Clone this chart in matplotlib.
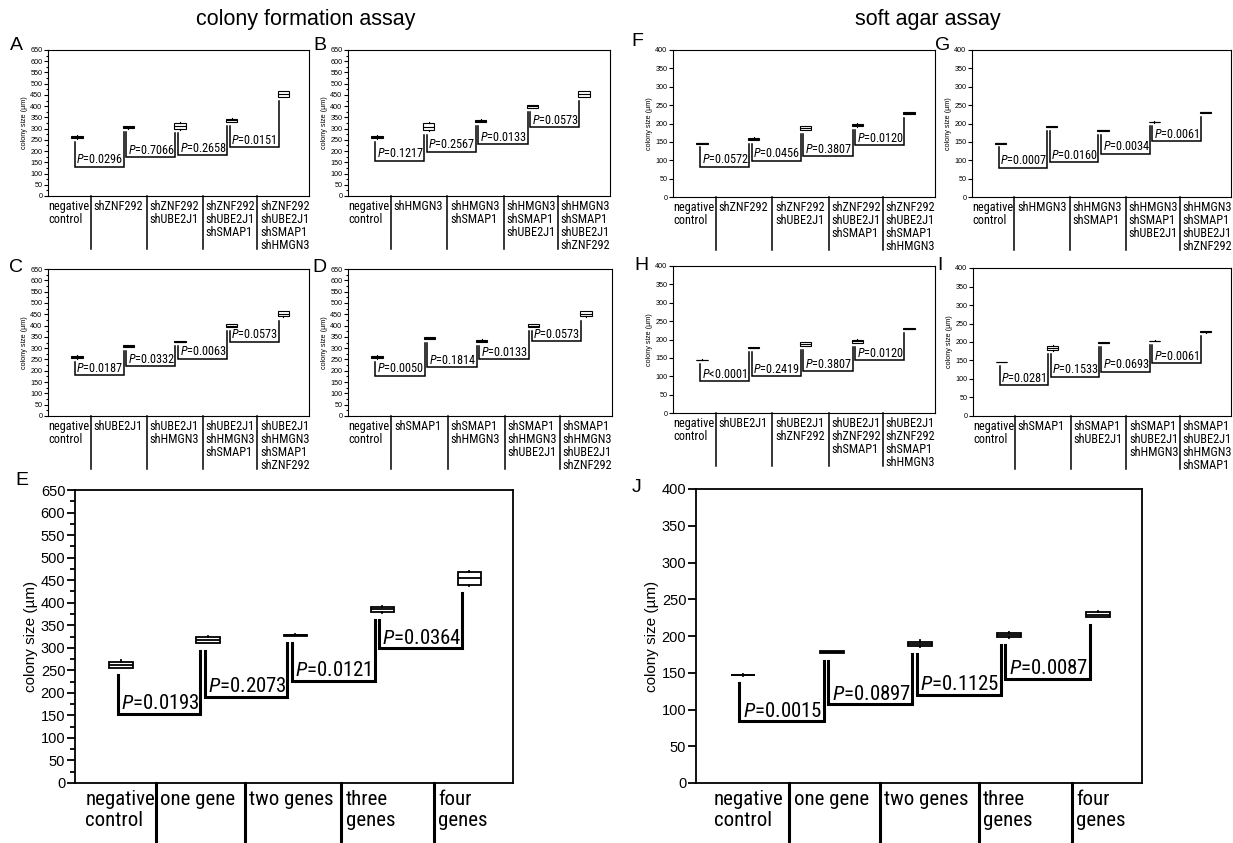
import matplotlib
matplotlib.use("Agg")
import matplotlib.pyplot as plt
import matplotlib.transforms as mtransforms
from matplotlib import font_manager
from matplotlib.ticker import MultipleLocator

# pick a condensed face for the p-values and group labels if it is there
installed = {f.name for f in font_manager.fontManager.ttflist}
narrow, nscale = "Liberation Sans", 0.86
for want in ["Liberation Sans Narrow", "Arial Narrow", "Roboto Condensed", "Open Sans Condensed"]:
    if want in installed:
        narrow, nscale = want, 1.0
        break

plt.rcParams["font.family"] = ["Liberation Sans", "DejaVu Sans"]
plt.rcParams["mathtext.fontset"] = "custom"
plt.rcParams["mathtext.rm"] = narrow
plt.rcParams["mathtext.it"] = narrow + ":italic"

# ---------------- data ----------------
# colony formation assay (A-E)
cats_A = ["negative\ncontrol", "shZNF292", "shZNF292\nshUBE2J1",
          "shZNF292\nshUBE2J1\nshSMAP1", "shZNF292\nshUBE2J1\nshSMAP1\nshHMGN3"]
med_A = [263, 307, 312, 337, 453]
q1_A = [257, 302, 298, 330, 441]
q3_A = [268, 311, 326, 344, 466]
lo_A = [255, 300, 296, 328, 439]
hi_A = [273, 313, 329, 346, 469]
lvl_A = [130, 172, 182, 217]
p_A = ["=0.0296", "=0.7066", "=0.2658", "=0.0151"]

cats_B = ["negative\ncontrol", "shHMGN3", "shHMGN3\nshSMAP1",
          "shHMGN3\nshSMAP1\nshUBE2J1", "shHMGN3\nshSMAP1\nshUBE2J1\nshZNF292"]
med_B = [263, 307, 335, 399, 453]
q1_B = [257, 292, 330, 394, 441]
q3_B = [268, 325, 340, 404, 466]
lo_B = [255, 290, 328, 392, 439]
hi_B = [273, 328, 342, 406, 469]
lvl_B = [157, 197, 231, 306]
p_B = ["=0.1217", "=0.2567", "=0.0133", "=0.0573"]

cats_C = ["negative\ncontrol", "shUBE2J1", "shUBE2J1\nshHMGN3",
          "shUBE2J1\nshHMGN3\nshSMAP1", "shUBE2J1\nshHMGN3\nshSMAP1\nshZNF292"]
med_C = [262, 311, 329, 400, 452]
q1_C = [256, 307, 327, 395, 440]
q3_C = [267, 314, 331, 405, 464]
lo_C = [254, 305, 326, 393, 438]
hi_C = [270, 316, 332, 407, 466]
lvl_C = [181, 221, 254, 329]
p_C = ["=0.0187", "=0.0332", "=0.0063", "=0.0573"]

cats_D = ["negative\ncontrol", "shSMAP1", "shSMAP1\nshHMGN3",
          "shSMAP1\nshHMGN3\nshUBE2J1", "shSMAP1\nshHMGN3\nshUBE2J1\nshZNF292"]
med_D = [262, 346, 333, 400, 452]
q1_D = [256, 342, 328, 395, 440]
q3_D = [267, 349, 338, 405, 464]
lo_D = [254, 340, 326, 393, 438]
hi_D = [270, 351, 340, 407, 466]
lvl_D = [178, 215, 251, 331]
p_D = ["=0.0050", "=0.1814", "=0.0133", "=0.0573"]

cats_E = ["negative\ncontrol", "one gene", "two genes", "three\ngenes", "four\ngenes"]
med_E = [262, 318, 328, 385, 455]
q1_E = [256, 311, 327, 379, 440]
q3_E = [268, 323, 329, 391, 468]
lo_E = [255, 310, 327, 378, 438]
hi_E = [273, 326, 331, 393, 471]
lvl_E = [153, 191, 226, 299]
p_E = ["=0.0193", "=0.2073", "=0.0121", "=0.0364"]

# soft agar assay (F-J)
cats_F = ["negative\ncontrol", "shZNF292", "shZNF292\nshUBE2J1",
          "shZNF292\nshUBE2J1\nshSMAP1", "shZNF292\nshUBE2J1\nshSMAP1\nshHMGN3"]
med_F = [146, 158, 188, 196, 229]
q1_F = [145.5, 155, 183, 192, 227]
q3_F = [146.5, 161, 193, 200, 231]
lo_F = [145, 154, 182, 191, 226]
hi_F = [147, 162, 194, 201, 232]
lvl_F = [82, 99, 111, 141]
p_F = ["=0.0572", "=0.0456", "=0.3807", "=0.0120"]

cats_G = ["negative\ncontrol", "shHMGN3", "shHMGN3\nshSMAP1",
          "shHMGN3\nshSMAP1\nshUBE2J1", "shHMGN3\nshSMAP1\nshUBE2J1\nshZNF292"]
med_G = [146, 191, 181, 204, 230]
q1_G = [145.5, 190, 180, 203, 229]
q3_G = [146.5, 192.5, 182, 205, 231.5]
lo_G = [145, 189.5, 179.5, 202.5, 228.5]
hi_G = [147, 193, 182.5, 205.5, 232]
lvl_G = [80, 95, 118, 152]
p_G = ["=0.0007", "=0.0160", "=0.0034", "=0.0061"]

cats_H = ["negative\ncontrol", "shUBE2J1", "shUBE2J1\nshZNF292",
          "shUBE2J1\nshZNF292\nshSMAP1", "shUBE2J1\nshZNF292\nshSMAP1\nshHMGN3"]
med_H = [145, 178, 188, 196, 229]
q1_H = [144.5, 177, 182, 191, 228]
q3_H = [145.5, 179, 193, 200, 230]
lo_H = [144, 176.5, 181, 190, 227.5]
hi_H = [146, 179.5, 194, 201, 230.5]
lvl_H = [86, 100, 113, 144]
p_H = ["<0.0001", "=0.2419", "=0.3807", "=0.0120"]

cats_I = ["negative\ncontrol", "shSMAP1", "shSMAP1\nshUBE2J1",
          "shSMAP1\nshUBE2J1\nshHMGN3", "shSMAP1\nshUBE2J1\nshHMGN3\nshSMAP1"]
med_I = [146, 184, 198, 203, 227]
q1_I = [145.5, 178, 197, 202, 226]
q3_I = [146.5, 190, 199, 204, 228.5]
lo_I = [145, 177, 196.5, 201.5, 225.5]
hi_I = [147, 191, 199.5, 205, 229]
lvl_I = [84, 106, 120, 143]
p_I = ["=0.0281", "=0.1533", "=0.0693", "=0.0061"]

cats_J = ["negative\ncontrol", "one gene", "two genes", "three\ngenes", "four\ngenes"]
med_J = [147, 178, 189, 201, 229]
q1_J = [146.5, 177, 186, 198, 226]
q3_J = [147.5, 179.5, 192, 204, 232]
lo_J = [146, 176.5, 185.5, 197.5, 225.5]
hi_J = [148, 180, 194, 205, 234]
lvl_J = [84, 107, 120, 142]
p_J = ["=0.0015", "=0.0897", "=0.1125", "=0.0087"]

# ---------------- layout ----------------
W, H = 1233, 843
fig = plt.figure(figsize=(W / 100, H / 100), dpi=100)


def px_rect(l, t, r, b):
    return [l / W, 1 - b / H, (r - l) / W, (b - t) / H]


small = dict(tick=5.2, ylab=5.2, ptxt=8.8, cat=8.8, lsp=1.0, lw=1.1, frame=0.8,
             bw=0.22, tl=3, mtl=1.6, depth=0.36, xlim=(0.44, 5.5), first=0.01,
             div=[1.27, 2.36, 3.45, 4.5], pdx=1.2, pdy=0.3)
big = dict(tick=10.5, ylab=11, ptxt=15.0, cat=15.0, lsp=1.1, lw=2.2, frame=1.3,
           bw=0.27, tl=6, mtl=3.5, depth=0.21, xlim=(0.47, 5.5), first=0.12,
           div=[1.4, 2.42, 3.53, 4.59], pdx=2.5, pdy=0.5)


def panel(rect, cats, med, q1, q3, lo, hi, lvl, pv, ymax, st, minor, div=None, first=None):
    ax = fig.add_axes(rect)
    pos = list(range(1, len(cats) + 1))
    stats = [dict(med=m, q1=a, q3=b, whislo=l, whishi=h, fliers=[])
             for m, a, b, l, h in zip(med, q1, q3, lo, hi)]
    bl = st["frame"]
    ax.bxp(stats, positions=pos, widths=st["bw"], patch_artist=True, showcaps=False,
           boxprops=dict(facecolor="white", edgecolor="black", linewidth=bl),
           medianprops=dict(color="black", linewidth=bl),
           whiskerprops=dict(color="black", linewidth=bl))
    gap = 0.025 * ymax
    for i in range(len(lvl)):
        xl = pos[i] - 0.04
        xr = pos[i + 1] - 0.09
        ax.plot([xl, xl, xr, xr], [lo[i] - gap, lvl[i], lvl[i], lo[i + 1] - gap],
                color="black", lw=st["lw"], solid_joinstyle="miter")
        ax.annotate("$P$" + pv[i], xy=(xl, lvl[i]), xytext=(st["pdx"], st["pdy"]),
                    textcoords="offset points", ha="left", va="bottom",
                    fontsize=st["ptxt"] * nscale, family=narrow)
    ax.set_xlim(*st["xlim"])
    ax.set_ylim(0, ymax)
    ax.set_xticks([])
    ax.yaxis.set_major_locator(MultipleLocator(50))
    if minor:
        ax.yaxis.set_minor_locator(MultipleLocator(25))
    ax.tick_params(axis="y", direction="out", labelsize=st["tick"], length=st["tl"],
                   width=bl, pad=1)
    ax.tick_params(axis="y", which="minor", length=st["mtl"], width=bl)
    for s in ax.spines.values():
        s.set_linewidth(bl)
    ax.set_ylabel("colony size (µm)", fontsize=st["ylab"], labelpad=2)
    # category block under the axis
    trans = mtransforms.blended_transform_factory(ax.transData, ax.transAxes)
    dv = div if div is not None else st["div"]
    for d in dv:
        ax.plot([d, d], [0, -st["depth"]], transform=trans, clip_on=False,
                color="black", lw=st["lw"])
    f0 = first if first is not None else st["first"]
    starts = [st["xlim"][0] + f0] + [d + 0.05 for d in dv]
    for x, lab in zip(starts, cats):
        ax.text(x, -0.025, lab, transform=trans, ha="left", va="top",
                fontsize=st["cat"] * nscale, family=narrow, linespacing=st["lsp"])
    return ax


panel(px_rect(48, 50, 309, 196), cats_A, med_A, q1_A, q3_A, lo_A, hi_A, lvl_A, p_A, 650, small, True)
panel(px_rect(348, 50, 610, 196), cats_B, med_B, q1_B, q3_B, lo_B, hi_B, lvl_B, p_B, 650, small, True)
panel(px_rect(48, 269, 309, 416), cats_C, med_C, q1_C, q3_C, lo_C, hi_C, lvl_C, p_C, 650, small, True)
panel(px_rect(348, 269, 612, 416), cats_D, med_D, q1_D, q3_D, lo_D, hi_D, lvl_D, p_D, 650, small, True)
panel(px_rect(75, 490, 513, 783), cats_E, med_E, q1_E, q3_E, lo_E, hi_E, lvl_E, p_E, 650, big, True)

panel(px_rect(673, 50, 935, 197), cats_F, med_F, q1_F, q3_F, lo_F, hi_F, lvl_F, p_F, 400, small, False)
panel(px_rect(972, 50, 1231, 197), cats_G, med_G, q1_G, q3_G, lo_G, hi_G, lvl_G, p_G, 400, small, False)
panel(px_rect(673, 266, 935, 413), cats_H, med_H, q1_H, q3_H, lo_H, hi_H, lvl_H, p_H, 400, small, False)
panel(px_rect(973, 268, 1231, 416), cats_I, med_I, q1_I, q3_I, lo_I, hi_I, lvl_I, p_I, 400, small, False)
panel(px_rect(696, 489, 1142, 783), cats_J, med_J, q1_J, q3_J, lo_J, hi_J, lvl_J, p_J, 400, big, False,
      div=[1.52, 2.54, 3.66, 4.71], first=0.2)

fig.text(306 / W, 1 - 20 / H, "colony formation assay", ha="center", va="center", fontsize=15.5)
fig.text(928 / W, 1 - 20 / H, "soft agar assay", ha="center", va="center", fontsize=15.5)

letters = [("A", 16, 45), ("B", 320, 45), ("C", 16, 267), ("D", 319, 267), ("E", 22, 480),
           ("F", 637, 42), ("G", 943, 45), ("H", 641, 265), ("I", 940, 266), ("J", 637, 488)]
for t, x, y in letters:
    fig.text(x / W, 1 - y / H, t, ha="center", va="center", fontsize=14)

fig.savefig("out.png", dpi=100)
